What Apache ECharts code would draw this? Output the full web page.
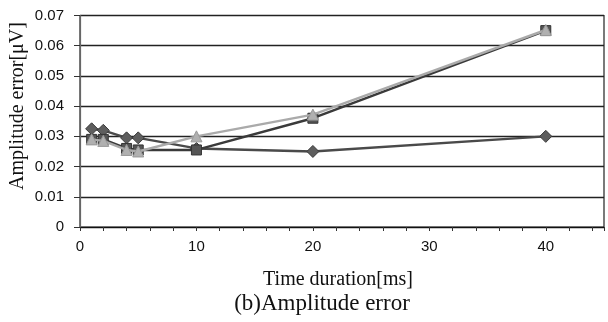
<!DOCTYPE html>
<html>
<head>
<meta charset="utf-8">
<script src="https://cdn.jsdelivr.net/npm/echarts@6/dist/echarts.min.js"></script>
<style>
html,body{margin:0;padding:0;background:#fff;}
#chart{width:608px;height:322px;}
</style>
</head>
<body>
<div id="chart"></div>
<script>
var xValues = [1, 2, 4, 5, 10, 20, 40];
var seriesDiamond = [0.0325, 0.032, 0.0295, 0.0295, 0.026, 0.025, 0.030];
var seriesSquare = [0.029, 0.029, 0.026, 0.0255, 0.0255, 0.036, 0.065];
var seriesTriangle = [0.029, 0.0285, 0.0255, 0.025, 0.030, 0.0372, 0.0652];
var xTitle = 'Time duration[ms]';
var yTitle = 'Amplitude error[μV]';
var caption = '(b)Amplitude error';

function pairs(vals) {
  return xValues.map(function (x, i) { return [x, vals[i]]; });
}

var chart = echarts.init(document.getElementById('chart'));
chart.setOption({
  animation: false,
  backgroundColor: '#fff',
  grid: {left: 80, right: 4, top: 15.5, bottom: 95, show: true, borderColor: '#222', borderWidth: 1.2, backgroundColor: 'transparent'},
  xAxis: {
    type: 'value', min: 0, max: 45, interval: 2,
    axisLine: {show: true, lineStyle: {color: '#111', width: 1.2}},
    axisTick: {show: true, inside: false, length: 4, lineStyle: {color: '#333'}},
    splitLine: {show: false},
    axisLabel: {
      margin: 12, fontFamily: 'Liberation Sans', fontSize: 15, color: '#111',
      formatter: function (v) { return (v % 10 === 0) ? String(v) : ''; }
    }
  },
  yAxis: {
    type: 'value', min: 0, max: 0.07, interval: 0.01,
    axisLine: {show: true, lineStyle: {color: '#666', width: 1.2}},
    axisTick: {show: true, inside: false, length: 6, lineStyle: {color: '#333'}},
    splitLine: {show: true, lineStyle: {color: '#222', width: 1.3}},
    axisLabel: {
      margin: 16, fontFamily: 'Liberation Sans', fontSize: 15, color: '#111',
      formatter: function (v) { return v === 0 ? '0' : v.toFixed(2); }
    }
  },
  series: [
    {
      type: 'line', data: pairs(seriesDiamond), symbol: 'diamond', symbolSize: 12,
      lineStyle: {color: '#4a4a4a', width: 2.4},
      itemStyle: {color: '#5e5e5e', borderColor: '#3a3a3a', borderWidth: 1}, z: 2
    },
    {
      type: 'line', data: pairs(seriesSquare), symbol: 'rect', symbolSize: 10,
      lineStyle: {color: '#3a3a3a', width: 2.4},
      itemStyle: {color: '#555', borderColor: '#333', borderWidth: 1}, z: 3
    },
    {
      type: 'line', data: pairs(seriesTriangle), symbol: 'triangle', symbolSize: 11,
      lineStyle: {color: '#aaaaaa', width: 2.4},
      itemStyle: {color: '#b0b0b0', borderColor: '#999', borderWidth: 1}, z: 4
    }
  ],
  graphic: [
    {
      type: 'text', x: 18, y: 106, rotation: Math.PI / 2,
      style: {text: yTitle, fontFamily: 'Liberation Serif', fontSize: 20, fill: '#111', align: 'center', verticalAlign: 'middle'}
    },
    {
      type: 'text', x: 338, y: 280,
      style: {text: xTitle, fontFamily: 'Liberation Serif', fontSize: 20, fill: '#111', align: 'center', verticalAlign: 'middle'}
    },
    {
      type: 'text', x: 322, y: 304,
      style: {text: caption, fontFamily: 'Liberation Serif', fontSize: 23, fill: '#111', align: 'center', verticalAlign: 'middle'}
    }
  ]
});
</script>
</body>
</html>
